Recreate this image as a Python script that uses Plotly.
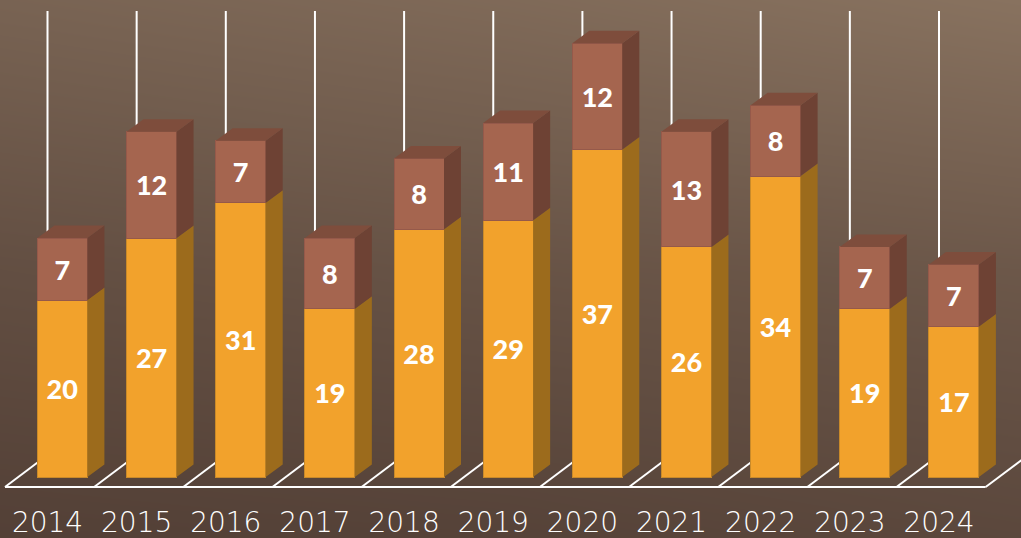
import plotly.graph_objects as go

years = [2014, 2015, 2016, 2017, 2018, 2019, 2020, 2021, 2022, 2023, 2024]
lower = [20, 27, 31, 19, 28, 29, 37, 26, 34, 19, 17]
upper = [7, 12, 7, 8, 8, 11, 12, 13, 8, 7, 7]

W, H = 1021, 538
BOTTOM = 503          # pixel row of the bottom of the plotting domain
ZERO = 477            # pixel row of value 0
PY = 8.85             # pixels per unit
PITCH = 89.15
BAR_CX0 = 62.4
WALL_X0 = 47.5
BAR_W = 50 / PITCH
DX = 17 / PITCH
DY = 12.5 / PY
WALL_TOP = (ZERO - 11) / PY
FLOOR_FRONT = -10 / PY
FLOOR_BACK = 22 / PY
FLOOR_DX = 42.5 / PITCH

ORANGE, ORANGE_SIDE = "#F2A22C", "#9C6B1C"
BROWN, BROWN_SIDE, BROWN_TOP = "#A5654F", "#6E4234", "#7E4D3C"

y_range = [(ZERO - BOTTOM) / PY, ZERO / PY]
bar_x_range = [years[0] - BAR_CX0 / PITCH, years[0] + (W - BAR_CX0) / PITCH]
wall_x_range = [years[0] - WALL_X0 / PITCH, years[0] + (W - WALL_X0) / PITCH]

fig = go.Figure()

# background gradient (corner shades)
bg_z = [[0.05, 0.10, 0.20],
        [0.33, 0.42, 0.50],
        [0.72, 0.84, 1.00]]
fig.add_trace(go.Heatmap(
    z=bg_z, x=[0, 0.5, 1], y=[0, 0.5, 1], zsmooth="best", showscale=False, hoverinfo="skip",
    zmin=0, zmax=1, colorscale=[[0, "#503D34"], [1, "#88725F"]],
    xaxis="x", yaxis="y"))

# wall lines
wx, wy = [], []
for yr in years:
    wx += [yr, yr, None]
    wy += [FLOOR_BACK, WALL_TOP, None]
fig.add_trace(go.Scatter(x=wx, y=wy, mode="lines", line=dict(color="white", width=2),
                         hoverinfo="skip", showlegend=False, xaxis="x2", yaxis="y2"))
# floor lines
fx, fy = [], []
for yr in years + [years[-1] + 1]:
    fx += [yr - FLOOR_DX, yr, None]
    fy += [FLOOR_FRONT, FLOOR_BACK, None]
fx += [years[0] - FLOOR_DX, years[-1] + 1 - FLOOR_DX]
fy += [FLOOR_FRONT, FLOOR_FRONT]
fig.add_trace(go.Scatter(x=fx, y=fy, mode="lines", line=dict(color="white", width=2),
                         hoverinfo="skip", showlegend=False, xaxis="x2", yaxis="y2"))

label_font = dict(family="Lato", size=27, color="white", weight=900)
# front faces
fig.add_trace(go.Bar(x=years, y=lower, name="A", marker=dict(color=ORANGE, line=dict(color="#C98A2A", width=1)),
                     text=lower, textposition="inside", insidetextanchor="middle", textangle=0,
                     textfont=label_font, width=BAR_W, xaxis="x3", yaxis="y3", hoverinfo="x+y"))
fig.add_trace(go.Bar(x=years, y=upper, name="B", marker=dict(color=BROWN, line=dict(color="#95594A", width=1)),
                     text=upper, textposition="inside", insidetextanchor="middle", textangle=0,
                     textfont=label_font, width=BAR_W, xaxis="x3", yaxis="y3", hoverinfo="x+y"))


def side(yr, v0, v1):
    r = yr + BAR_W / 2
    return [r, r + DX, r + DX, r, r, None], [v0, v0 + DY, v1 + DY, v1, v0, None]


def top(yr, v):
    l, r = yr - BAR_W / 2, yr + BAR_W / 2
    return [l, l + DX, r + DX, r, l, None], [v, v + DY, v + DY, v, v, None]


def poly(xs, ys, color):
    fig.add_trace(go.Scatter(x=xs, y=ys, mode="lines", fill="toself", fillcolor=color,
                             line=dict(width=0, color=color), hoverinfo="skip",
                             showlegend=False, xaxis="x3", yaxis="y3"))


sx, sy, bx, by, tx, ty = [], [], [], [], [], []
for yr, a, b in zip(years, lower, upper):
    p = side(yr, 0, a); sx += p[0]; sy += p[1]
    p = side(yr, a, a + b); bx += p[0]; by += p[1]
    p = top(yr, a + b); tx += p[0]; ty += p[1]
poly(sx, sy, ORANGE_SIDE)
poly(bx, by, BROWN_SIDE)
poly(tx, ty, BROWN_TOP)

hidden = dict(visible=False, fixedrange=True)
dom = [(H - BOTTOM) / H, 1]
fig.update_layout(
    width=W, height=H, margin=dict(l=0, r=0, t=0, b=0), showlegend=False, barmode="stack",
    paper_bgcolor="#5F4D42", plot_bgcolor="rgba(0,0,0,0)",
    xaxis=dict(domain=[0, 1], range=[0, 1], **hidden),
    yaxis=dict(domain=[0, 1], range=[0, 1], **hidden),
    xaxis2=dict(domain=[0, 1], range=wall_x_range, anchor="y2", tickvals=years, ticktext=[str(y) for y in years],
                showgrid=False, zeroline=False, showline=False, ticks="", fixedrange=True, automargin=False,
                tickfont=dict(family="'DejaVu Sans ExtraLight', 'DejaVu Sans'", size=28, color="white", weight=200)),
    yaxis2=dict(domain=dom, range=y_range, anchor="x2", **hidden),
    xaxis3=dict(domain=[0, 1], range=bar_x_range, anchor="y3", **hidden),
    yaxis3=dict(domain=dom, range=y_range, anchor="x3", **hidden),
)
fig.write_html("out.html", config={"displayModeBar": False},
               post_script="document.body.style.margin='0';document.body.style.overflow='hidden';")
